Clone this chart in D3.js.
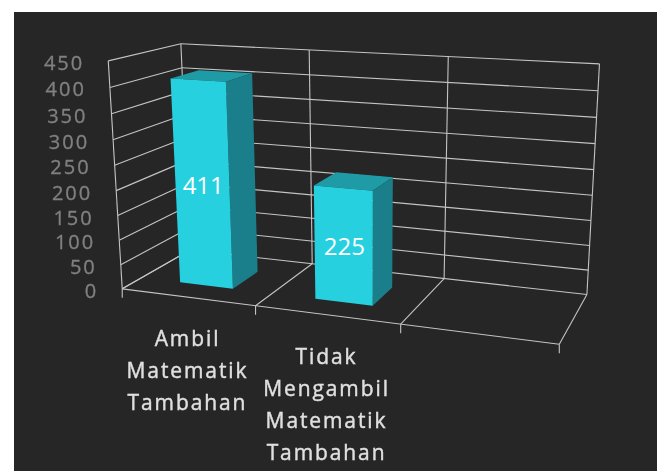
<!DOCTYPE html>
<html>
<head>
<meta charset="utf-8">
<script src="https://cdn.jsdelivr.net/npm/d3@7"></script>
<style>
html, body { margin: 0; padding: 0; background: #fff; overflow: hidden; }
text { font-family: "Open Sans", sans-serif; }
</style>
</head>
<body>
<div id="chart"></div>
<script>
// Chart data.
var categories = ["Ambil Matematik Tambahan", "Tidak Mengambil Matematik Tambahan", ""];
var values = [411, 225];
var valueTicks = [0, 50, 100, 150, 200, 250, 300, 350, 400, 450];

var width = 658;
var height = 471;

// Where known corners of the 3D box landed in the picture: [u, v, w] -> [x, y].
// u runs along the categories, v up the values, w from front to back.
var calibration = [
  [[0, 0, 0], [122, 288]], [[1 / 3, 0, 0], [256, 307]], [[2 / 3, 0, 0], [401, 324]], [[1, 0, 0], [559, 344]],
  [[0, 0, 1], [190, 249]], [[1 / 3, 0, 1], [312, 265]], [[2 / 3, 0, 1], [444, 278]], [[1, 0, 1], [587, 295]],
  [[0, 1, 1], [181, 44]], [[1 / 3, 1, 1], [309, 50]], [[2 / 3, 1, 1], [449, 57]], [[1, 1, 1], [599, 63]],
  [[0, 1, 0], [108, 61]]
];

// Least squares fit of a 3x4 camera matrix to the corners above.
function fitCamera(pairs) {
  var n = 11;
  var A = d3.range(n).map(function() { return d3.range(n + 1).map(function() { return 0; }); });
  function addRow(row, rhs) {
    for (var i = 0; i < n; i++) {
      for (var j = 0; j < n; j++) A[i][j] += row[i] * row[j];
      A[i][n] += row[i] * rhs;
    }
  }
  pairs.forEach(function(p) {
    var X = p[0][0], Y = p[0][1], Z = p[0][2], x = p[1][0], y = p[1][1];
    addRow([X, Y, Z, 1, 0, 0, 0, 0, -x * X, -x * Y, -x * Z], x);
    addRow([0, 0, 0, 0, X, Y, Z, 1, -y * X, -y * Y, -y * Z], y);
  });
  for (var c = 0; c < n; c++) {
    var best = c;
    for (var r = c + 1; r < n; r++) if (Math.abs(A[r][c]) > Math.abs(A[best][c])) best = r;
    var tmp = A[c]; A[c] = A[best]; A[best] = tmp;
    for (var r2 = 0; r2 < n; r2++) {
      if (r2 === c) continue;
      var f = A[r2][c] / A[c][c];
      for (var k = c; k <= n; k++) A[r2][k] -= f * A[c][k];
    }
  }
  return A.map(function(row, i) { return row[n] / row[i]; });
}

var cam = fitCamera(calibration);

function project(u, v, w) {
  var d = cam[8] * u + cam[9] * v + cam[10] * w + 1;
  return [
    (cam[0] * u + cam[1] * v + cam[2] * w + cam[3]) / d,
    (cam[4] * u + cam[5] * v + cam[6] * w + cam[7]) / d
  ];
}

// Scales into the box.
var xBand = d3.scaleBand().domain(d3.range(categories.length)).range([0.006, 1.006]).paddingInner(0.6).paddingOuter(0.28);
var xCell = d3.scaleBand().domain(d3.range(categories.length)).range([0, 1]);
var yScale = d3.scaleLinear().domain([0, 450]).range([0, 1]);
var depth = [0.27, 0.68];

var line = d3.line();
var gridColor = "#c4c4c4";

var svg = d3.select("#chart").append("svg")
  .attr("width", width)
  .attr("height", height)
  .style("display", "block");

svg.append("defs").append("filter").attr("id", "soft")
  .append("feGaussianBlur").attr("stdDeviation", 0.35);

svg.append("rect")
  .attr("x", 14).attr("y", 12)
  .attr("width", width - 15).attr("height", height - 12)
  .attr("fill", "#262626");

var grid = svg.append("g").attr("fill", "none").attr("stroke", gridColor).attr("stroke-width", 1.1);

function gridPath(a, b) {
  grid.append("path").attr("d", line([a, b]));
}

// Value gridlines on left wall and back wall.
valueTicks.forEach(function(t) {
  var v = yScale(t);
  gridPath(project(0, v, 0), project(0, v, 1));
  gridPath(project(0, v, 1), project(1, v, 1));
});

// Uprights, floor lines and tick marks.
gridPath(project(0, 0, 0), project(0, 1, 0));
var edges = d3.range(categories.length + 1).map(function(i) { return i / categories.length; });
edges.forEach(function(u) {
  gridPath(project(u, 0, 1), project(u, 1, 1));
  gridPath(project(u, 0, 0), project(u, 0, 1));
  var foot = project(u, 0, 0);
  gridPath(foot, [foot[0], foot[1] + 9]);
});
gridPath(project(0, 0, 0), project(1, 0, 0));

// Bars.
var bars = svg.append("g").selectAll("g").data(values).join("g");

function face(corners) {
  return line(corners.map(function(c) { return project(c[0], c[1], c[2]); })) + "Z";
}

bars.each(function(d, i) {
  var g = d3.select(this);
  var u0 = xBand(i), u1 = u0 + xBand.bandwidth();
  var v = yScale(d), w0 = depth[0], w1 = depth[1];
  g.append("path").attr("fill", "#1f9ba6")
    .attr("d", face([[u0, v, w0], [u1, v, w0], [u1, v, w1], [u0, v, w1]]));
  g.append("path").attr("fill", "#1a7f8a")
    .attr("d", face([[u1, 0, w0], [u1, v, w0], [u1, v, w1], [u1, 0, w1]]));
  g.append("path").attr("fill", "#26d0df")
    .attr("d", face([[u0, 0, w0], [u1, 0, w0], [u1, v, w0], [u0, v, w0]]));
  var c = project((u0 + u1) / 2, v / 2, w0);
  g.append("text")
    .attr("x", c[0] + 1)
    .attr("y", c[1] + 9)
    .attr("text-anchor", "middle")
    .attr("font-size", 24)
    .attr("fill", "#ffffff")
    .text(d);
});

var labels = svg.append("g").attr("filter", "url(#soft)");

// Value tick labels follow the front upright.
labels.selectAll("text.tick").data(valueTicks).join("text")
  .attr("class", "tick")
  .attr("x", function(t) { return project(0, yScale(t), 0)[0] - 24; })
  .attr("y", function(t) { return project(0, yScale(t), 0)[1] + 9; })
  .attr("text-anchor", "end")
  .attr("font-size", 20)
  .attr("letter-spacing", 2)
  .attr("fill", "#808080")
  .attr("stroke", "#808080")
  .attr("stroke-width", 0.3)
  .text(function(t) { return t; });

// Category labels, one word per line.
categories.forEach(function(name, i) {
  if (!name) return;
  var foot = project(xCell(i) + xCell.bandwidth() / 2, 0, 0);
  labels.append("text")
    .attr("text-anchor", "middle")
    .attr("font-size", 21)
    .attr("letter-spacing", 1.9)
    .attr("fill", "#e0e0e0")
    .attr("stroke", "#e0e0e0")
    .attr("stroke-width", 0.4)
    .selectAll("tspan").data(name.split(" ")).join("tspan")
    .attr("x", foot[0])
    .attr("y", function(d, k) { return foot[1] + 49 + k * 32; })
    .text(function(d) { return d; });
});
</script>
</body>
</html>
